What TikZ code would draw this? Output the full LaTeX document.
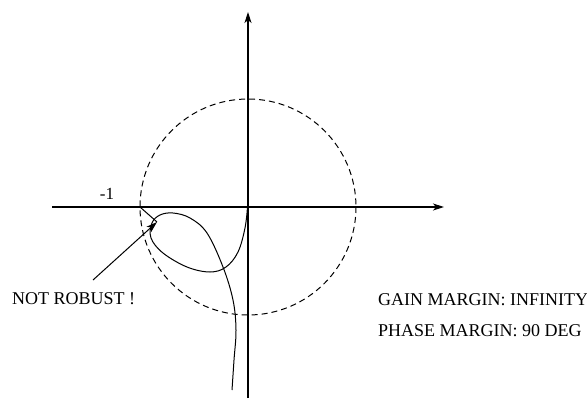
\documentclass[tikz,border=0pt]{standalone}
\usepackage{fontspec}
\setmainfont{Liberation Serif}
\usetikzlibrary{arrows.meta}
\begin{document}
\begin{tikzpicture}[x=1pt,y=-1pt,
  axis/.style={line width=1.1pt,-{Stealth[length=11pt,width=7pt,inset=3pt]}},
  curve/.style={line width=1pt},
  lbl/.style={font=\fontsize{18}{20}\selectfont, inner sep=0pt},
  dashcirc/.style={line width=1pt, dash pattern=on 6pt off 4pt}]
\useasboundingbox (0,0) rectangle (587,400);
\coordinate (O) at (248,207);
\coordinate (xl) at (52,207);
\coordinate (xr) at (444,207);
\coordinate (yb) at (248,398);
\coordinate (yt) at (248,12);
\draw[axis] (xl) -- (xr);
\draw[axis] (yb) -- (yt);
\draw[dashcirc] (O) circle[radius=108];
\node[inner sep=0pt, font=\fontsize{17}{19}\selectfont] (m1) at (107,194) {-1};
\draw[curve] plot[smooth, tension=0.6] coordinates {
  (247.5,207) (245,228) (238,252) (226,267) (210,272) (187,267) (163,253)
  (151,238) (152,223) (160,215) (173,213) (190,218) (207,233) (223,267)
  (233,300) (236,330) (234,360) (232,390)};
\coordinate (m1pt) at (140,207);
\coordinate (tip) at (157,222);
\draw[curve] (m1pt) -- (tip);
\node[lbl, anchor=west] (nr) at (12,298.5) {NOT ROBUST !};
\coordinate (astart) at (93,280);
\draw[curve,-{Stealth[length=11pt,width=7pt,inset=3pt]}] (astart) -- (tip);
\node[lbl, anchor=west] (gm) at (378,300) {GAIN MARGIN: INFINITY};
\node[lbl, anchor=west] (pm) at (378,331) {PHASE MARGIN: 90 DEG};
\end{tikzpicture}
\end{document}
